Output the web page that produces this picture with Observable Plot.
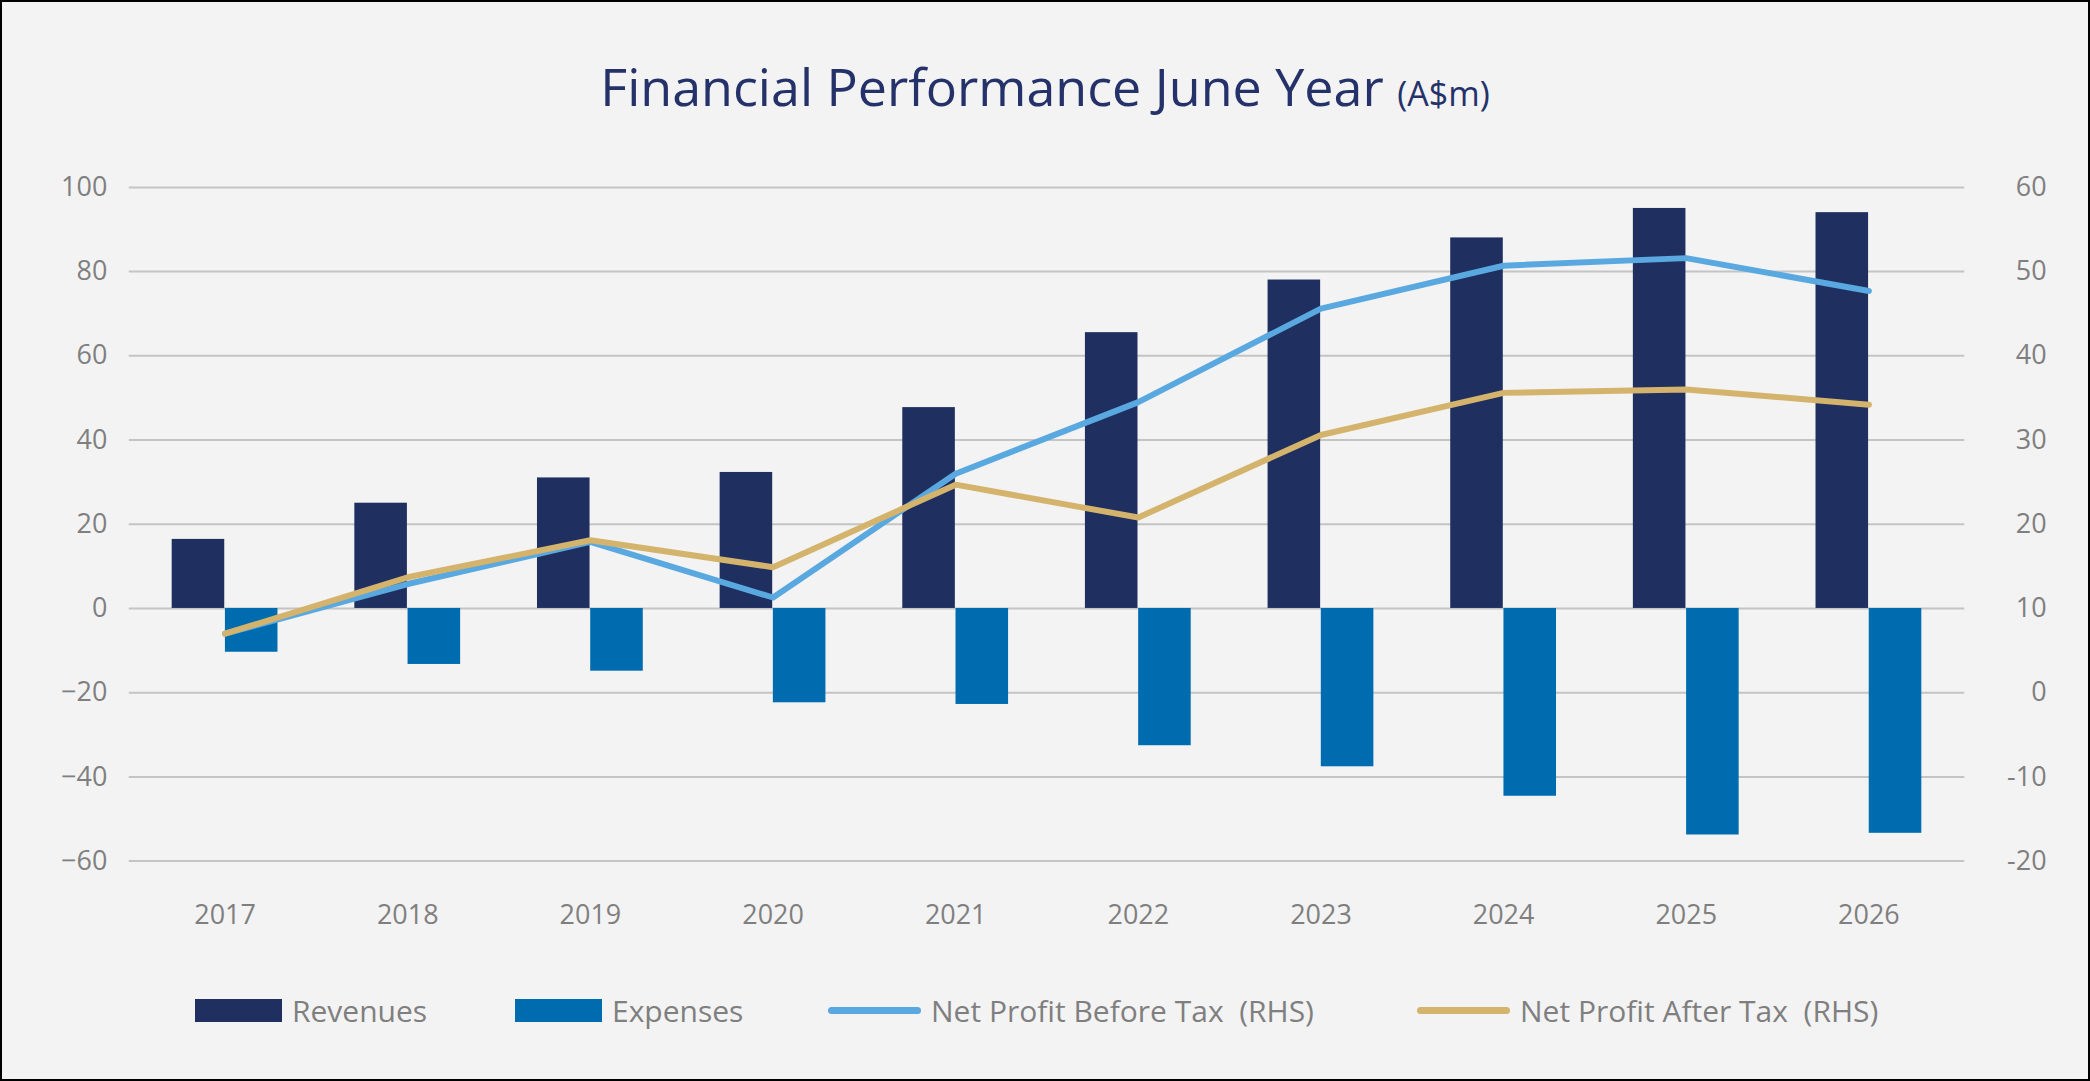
<!DOCTYPE html>
<html><head><meta charset="utf-8">
<script src="https://cdn.jsdelivr.net/npm/d3@7"></script>
<script src="https://cdn.jsdelivr.net/npm/@observablehq/plot@0.6"></script>
<style>
body{margin:0;background:#fff;font-family:"Open Sans","Noto Sans",sans-serif;}
#frame{position:absolute;left:0;top:0;width:2086px;height:1077px;border:2px solid #000;background:#f3f3f3;}
#title{position:absolute;top:48px;width:100%;text-align:center;color:#25326a;font-size:52px;}
#title small{font-size:34px;}
#chart{position:absolute;left:0;top:130px;}
.leg{position:absolute;top:988px;font-size:30px;color:#7f7f7f;display:flex;align-items:center;}
.sw{display:inline-block;margin-right:10px;}
</style></head><body>
<div id="frame">
<div id="title">Financial Performance June Year <small>(A$m)</small></div>
<div id="chart"></div>
<div class="leg" style="left:193px"><span class="sw" style="width:87px;height:23px;background:#1f3060"></span>Revenues</div>
<div class="leg" style="left:513px"><span class="sw" style="width:87px;height:23px;background:#006cb0"></span>Expenses</div>
<div class="leg" style="left:826px"><span class="sw" style="width:93px;height:7px;background:#5aa8e0;border-radius:4px"></span>Net Profit Before Tax&nbsp; (RHS)</div>
<div class="leg" style="left:1415px"><span class="sw" style="width:93px;height:7px;background:#d4b46c;border-radius:4px"></span>Net Profit After Tax&nbsp; (RHS)</div>
</div>
<script>
const years=["2017","2018","2019","2020","2021","2022","2023","2024","2025","2026"];
const revenues=[16.4,25,31,32.3,47.7,65.5,78,88,95,94];
const expenses=[-10.4,-13.3,-14.9,-22.4,-22.8,-32.6,-37.6,-44.6,-53.8,-53.4];
const npbt=[7.0,12.9,17.9,11.3,26,34.5,45.6,50.7,51.6,47.7];
const npat=[7.0,13.7,18.1,14.9,24.7,20.8,30.6,35.6,36,34.2];
const leftTicks=[-60,-40,-20,0,20,40,60,80,100];
const rightTicks=[-20,-10,0,10,20,30,40,50,60];
const toLeft=r=>2*r-20;
const W=2090,mL=127,mR=124;
const step=(W-mL-mR)/years.length, bw=step*0.58, half=bw/2;
const rows=years.map((y,i)=>({y,rev:revenues[i],exp:expenses[i],b:toLeft(npbt[i]),a:toLeft(npat[i])}));
const grey="#7f7f7f";
const chart=Plot.plot({
  width:W,height:820,marginTop:55,marginBottom:90,marginLeft:mL,marginRight:mR,
  style:{background:"transparent",fontFamily:"'Open Sans','Noto Sans',sans-serif",fontSize:"27px",color:grey},
  x:{domain:years,paddingInner:0.42,paddingOuter:0.21,label:null},
  y:{domain:[-60,100],label:null},
  marks:[
    Plot.ruleY(leftTicks,{stroke:"#c4c4c4",strokeWidth:2}),
    Plot.barY(rows,{x:"y",y:"rev",fill:"#1f3060",insetRight:half,insetLeft:0}),
    Plot.barY(rows,{x:"y",y:"exp",fill:"#006cb0",insetLeft:half,insetRight:0}),
    Plot.lineY(rows,{x:"y",y:"b",stroke:"#5aa8e0",strokeWidth:6}),
    Plot.lineY(rows,{x:"y",y:"a",stroke:"#d4b46c",strokeWidth:6}),
    Plot.axisY(leftTicks,{anchor:"left",tickSize:0,tickPadding:22,fill:grey,fontSize:27}),
    Plot.axisY(rightTicks.map(toLeft),{anchor:"right",tickSize:0,tickPadding:22,fill:grey,fontSize:27,tickFormat:v=>String((v+20)/2),textAnchor:"end",dx:60}),
    Plot.axisX({tickSize:0,tickPadding:44,fill:grey,fontSize:27,label:null})
  ]
});
document.getElementById("chart").appendChild(chart);
</script>
</body></html>
